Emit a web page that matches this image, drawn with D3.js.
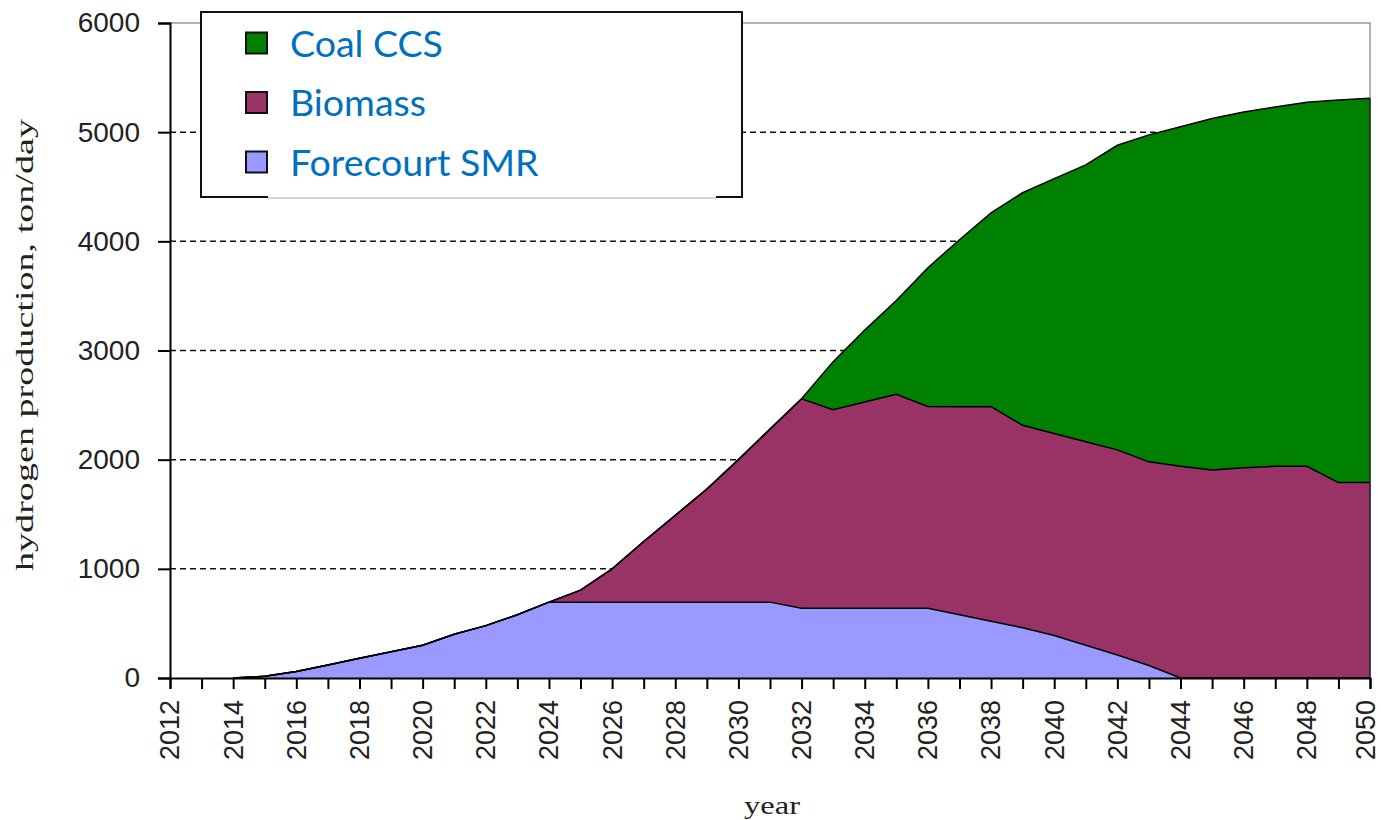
<!DOCTYPE html>
<html>
<head>
<meta charset="utf-8">
<script src="https://cdn.jsdelivr.net/npm/d3@7"></script>
<style>
  body { margin: 0; background: #fff; }
  svg { display: block; }
</style>
</head>
<body>
<div class="container"></div>
<script>
// years on the horizontal axis
const years = d3.range(2012, 2051);

// hydrogen production per pathway, ton/day
const forecourtSMR = [0, 0, 0, 15, 60, 120, 180, 240, 300, 400, 480, 580, 695,
  695, 695, 695, 695, 695, 695, 695, 638, 638, 638, 638, 638,
  580, 520, 460, 390, 300, 210, 115, 0, 0, 0, 0, 0, 0, 0];
const biomass = [0, 0, 0, 0, 0, 0, 0, 0, 0, 0, 0, 0, 0,
  110, 305, 555, 795, 1035, 1305, 1585, 1920, 1820, 1890, 1960, 1850,
  1905, 1965, 1855, 1850, 1865, 1880, 1865, 1940, 1905, 1925, 1940, 1940, 1790, 1790];
const coalCCS = [0, 0, 0, 0, 0, 0, 0, 0, 0, 0, 0, 0, 0,
  0, 0, 0, 0, 0, 0, 0, 0, 440, 660, 860, 1270,
  1530, 1775, 2130, 2335, 2535, 2790, 2995, 3110, 3220, 3260, 3290, 3335, 3505, 3520];

// series names, bottom to top, and their fills
const seriesNames = ["Forecourt SMR", "Biomass", "Coal CCS"];
const seriesColors = ["#9999ff", "#993366", "#008000"];

// y tick values and x label years
const yTicks = [0, 1000, 2000, 3000, 4000, 5000, 6000];
const xLabelYears = d3.range(2012, 2051, 2);

// table for the stack layout
const table = years.map((year, i) => ({
  year: year,
  "Forecourt SMR": forecourtSMR[i],
  "Biomass": biomass[i],
  "Coal CCS": coalCCS[i]
}));

const stacked = d3.stack().keys(seriesNames)(table);

const svg = d3.select(".container")
  .append("svg")
  .attr("width", 1381)
  .attr("height", 820);

const xScale = d3.scaleLinear()
  .domain([2012, 2050])
  .range([170, 1370]);

const yScale = d3.scaleLinear()
  .domain([0, 6000])
  .range([678, 23]);

// dashed grid lines, drawn behind the areas
svg.append("g")
  .selectAll("line")
  .data(yTicks.filter(d => d > 0 && d < 6000))
  .enter()
  .append("line")
  .attr("x1", xScale(2012))
  .attr("x2", xScale(2050))
  .attr("y1", d => yScale(d))
  .attr("y2", d => yScale(d))
  .attr("stroke", "#111")
  .attr("stroke-width", 1.5)
  .attr("stroke-dasharray", "6,4");

// plot frame top and right in grey
svg.append("path")
  .attr("d", `M${xScale(2012)},${yScale(6000)}H${xScale(2050)}V${yScale(0)}`)
  .attr("fill", "none")
  .attr("stroke", "#999")
  .attr("stroke-width", 1.5);

// stacked areas
const area = d3.area()
  .x(d => xScale(d.data.year))
  .y0(d => yScale(d[0]))
  .y1(d => yScale(d[1]));

const topLine = d3.line()
  .x(d => xScale(d.data.year))
  .y(d => yScale(d[1]));

svg.append("g")
  .selectAll("path")
  .data(stacked)
  .enter()
  .append("path")
  .attr("fill", (d, i) => seriesColors[i])
  .attr("d", area);

// black outline on the top edge of each layer
svg.append("g")
  .selectAll("path")
  .data(stacked)
  .enter()
  .append("path")
  .attr("fill", "none")
  .attr("stroke", "#000")
  .attr("stroke-width", 1.5)
  .attr("d", d => topLine(d.filter(p => p.data.year >= 2014)));

// closing edge on the right of the areas
const lastTotal = stacked[stacked.length - 1][years.length - 1][1];
svg.append("line")
  .attr("x1", xScale(2050))
  .attr("x2", xScale(2050))
  .attr("y1", yScale(0))
  .attr("y2", yScale(lastTotal))
  .attr("stroke", "#222")
  .attr("stroke-width", 1.5);

// axes
const yAxis = d3.axisLeft(yScale)
  .tickValues(yTicks)
  .tickSize(12)
  .tickPadding(18)
  .tickFormat(d3.format("d"));

const yAxisG = svg.append("g")
  .attr("transform", `translate(${xScale(2012)},0)`)
  .call(yAxis);

const xAxis = d3.axisBottom(xScale)
  .tickValues(years)
  .tickSize(11)
  .tickFormat(d => xLabelYears.includes(d) ? d : "");

const xAxisG = svg.append("g")
  .attr("transform", `translate(0,${yScale(0)})`)
  .call(xAxis);

[yAxisG, xAxisG].forEach(g => {
  g.select(".domain").attr("stroke", "#000").attr("stroke-width", 2);
  g.selectAll(".tick line").attr("stroke", "#000").attr("stroke-width", 2);
  g.selectAll(".tick text")
    .attr("fill", "#222")
    .style("font-family", "'Liberation Sans', Arial, sans-serif")
    .style("font-size", "28px");
});

// x labels read bottom to top; the last one is pulled in from the page edge
xAxisG.selectAll(".tick text")
  .style("font-size", "27px")
  .attr("transform", "rotate(-90)")
  .attr("text-anchor", "end")
  .attr("x", -22)
  .attr("y", d => d === 2050 ? -4 : 0)
  .attr("dy", "0.33em");

// axis titles
svg.append("text")
  .attr("transform", "translate(33,345) rotate(-90)")
  .attr("text-anchor", "middle")
  .attr("textLength", 452)
  .attr("lengthAdjust", "spacingAndGlyphs")
  .style("font-family", "'Liberation Serif', 'Times New Roman', serif")
  .style("font-size", "25px")
  .attr("fill", "#222")
  .text("hydrogen production, ton/day");

svg.append("text")
  .attr("x", 772)
  .attr("y", 814)
  .attr("text-anchor", "middle")
  .attr("textLength", 56)
  .attr("lengthAdjust", "spacingAndGlyphs")
  .style("font-family", "'Liberation Serif', 'Times New Roman', serif")
  .style("font-size", "25px")
  .attr("fill", "#222")
  .text("year");

// legend box
const legend = svg.append("g");

legend.append("rect")
  .attr("x", 201)
  .attr("y", 12)
  .attr("width", 541)
  .attr("height", 185)
  .attr("fill", "#fff")
  .attr("stroke", "#111")
  .attr("stroke-width", 2);

// the bottom edge is lighter in the middle
legend.append("line")
  .attr("x1", 268)
  .attr("x2", 716)
  .attr("y1", 197)
  .attr("y2", 197)
  .attr("stroke", "#fff")
  .attr("stroke-width", 2.5);
legend.append("line")
  .attr("x1", 268)
  .attr("x2", 716)
  .attr("y1", 198)
  .attr("y2", 198)
  .attr("stroke", "#aaa")
  .attr("stroke-width", 1);

// legend rows, top to bottom
const legendOrder = [2, 1, 0];
const rows = legend.selectAll(".row")
  .data(legendOrder)
  .enter()
  .append("g")
  .attr("class", "row")
  .attr("transform", (d, i) => `translate(0,${43 + i * 59.5})`);

rows.append("rect")
  .attr("x", 246)
  .attr("y", -10.5)
  .attr("width", 21)
  .attr("height", 21)
  .attr("fill", d => seriesColors[d])
  .attr("stroke", "#111")
  .attr("stroke-width", 2);

rows.append("text")
  .attr("x", 290)
  .attr("y", 0)
  .attr("dy", "0.36em")
  .attr("fill", "#0070c0")
  .style("font-family", "Lato, 'Open Sans', sans-serif")
  .style("font-size", "37.5px")
  .text(d => seriesNames[d]);
</script>
</body>
</html>
